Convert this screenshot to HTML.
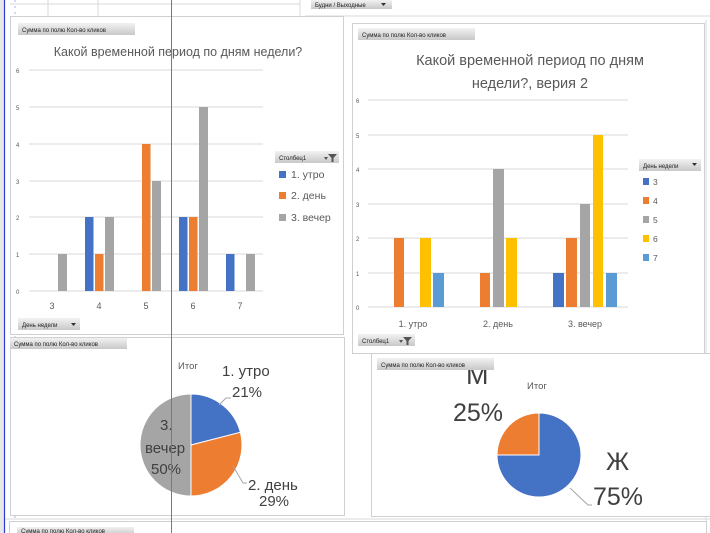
<!DOCTYPE html>
<html><head><meta charset="utf-8"><style>
html,body{margin:0;padding:0;background:#fff;}
svg{display:block;font-family:"Liberation Sans","Noto Sans CJK SC",sans-serif;}
</style></head><body>
<svg width="710" height="533" viewBox="0 0 710 533" xmlns="http://www.w3.org/2000/svg">
<defs><linearGradient id="bt" x1="0" y1="0" x2="0" y2="1"><stop offset="0" stop-color="#f2f2f2"/><stop offset="1" stop-color="#c8c8c8"/></linearGradient></defs>
<rect width="710" height="533" fill="#fff"/>
<!-- sheet grid hints -->
<g stroke="#d9d9d9" stroke-width="1">
<line x1="10" y1="4" x2="300" y2="4"/><line x1="305" y1="16" x2="710" y2="16"/>
<line x1="48" y1="0" x2="48" y2="16"/><line x1="98" y1="0" x2="98" y2="16"/><line x1="300" y1="0" x2="300" y2="16"/>
<line x1="0" y1="519" x2="710" y2="519"/>
<line x1="706" y1="20" x2="706" y2="533"/>
</g>
<rect x="0" y="0" width="4" height="533" fill="#e8e8e8"/>
<line x1="4.5" y1="0" x2="4.5" y2="533" stroke="#2a3fd0" stroke-width="1.2"/>
<line x1="15" y1="0" x2="15" y2="533" stroke="#2a3fd0" stroke-width="0.8" stroke-dasharray="2,4" opacity="0.5"/>
<!-- top button -->
<rect x="311" y="0" width="81" height="9" fill="url(#bt)"/>
<text x="315" y="7" font-size="6" fill="#222">Будни / Выходные</text>
<path d="M381 3 l5 0 l-2.5 3z" fill="#333"/>

<!-- LEFT CHART -->
<rect x="10.5" y="16.5" width="333" height="318" fill="#fff" stroke="#d0d0d0"/>
<rect x="18" y="23" width="117" height="12" fill="url(#bt)"/>
<text x="22" y="32" font-size="6" fill="#222">Сумма по полю Кол-во кликов</text>
<text x="178" y="56" font-size="12.5" fill="#595959" text-anchor="middle">Какой временной период по дням недели?</text>
<g stroke="#d9d9d9"><line x1="29" y1="70" x2="263" y2="70"/><line x1="29" y1="107" x2="263" y2="107"/><line x1="29" y1="144" x2="263" y2="144"/><line x1="29" y1="181" x2="263" y2="181"/><line x1="29" y1="217" x2="263" y2="217"/><line x1="29" y1="254" x2="263" y2="254"/><line x1="29" y1="291" x2="263" y2="291"/></g>
<g font-size="6" fill="#595959"><text x="16" y="73">6</text><text x="16" y="110">5</text><text x="16" y="147">4</text><text x="16" y="184">3</text><text x="16" y="220">2</text><text x="16" y="257">1</text><text x="16" y="294">0</text></g>
<g>
<rect x="58" y="254" width="9" height="37" fill="#a5a5a5"/>
<rect x="85" y="217" width="8.5" height="74" fill="#4472c4"/>
<rect x="95" y="254" width="8.5" height="37" fill="#ed7d31"/>
<rect x="105" y="217" width="9" height="74" fill="#a5a5a5"/>
<rect x="142" y="144" width="8.5" height="147" fill="#ed7d31"/>
<rect x="152" y="181" width="9" height="110" fill="#a5a5a5"/>
<rect x="179" y="217" width="8.5" height="74" fill="#4472c4"/>
<rect x="189" y="217" width="8.5" height="74" fill="#ed7d31"/>
<rect x="199" y="107" width="9" height="184" fill="#a5a5a5"/>
<rect x="226" y="254" width="8.5" height="37" fill="#4472c4"/>
<rect x="246" y="254" width="9" height="37" fill="#a5a5a5"/>
</g>
<g font-size="9" fill="#595959" text-anchor="middle"><text x="52" y="309">3</text><text x="99" y="309">4</text><text x="146" y="309">5</text><text x="193" y="309">6</text><text x="240" y="309">7</text></g>
<rect x="275" y="151" width="64" height="12" fill="url(#bt)"/>
<text x="279" y="160" font-size="6" fill="#222">Столбец1</text>
<path d="M324 157 l4 0 l-2 3z M328 154 l9 0 l-3.5 4 l0 4 l-2 0 l0 -4z" fill="#555"/>
<rect x="279" y="171" width="7" height="7" fill="#4472c4"/><text x="291" y="178" font-size="10.5" fill="#595959">1. утро</text>
<rect x="279" y="192" width="7" height="7" fill="#ed7d31"/><text x="291" y="199" font-size="10.5" fill="#595959">2. день</text>
<rect x="279" y="214" width="7" height="7" fill="#a5a5a5"/><text x="291" y="221" font-size="10.5" fill="#595959">3. вечер</text>
<rect x="18" y="318" width="62" height="12" fill="url(#bt)"/>
<text x="22" y="327" font-size="6" fill="#222">День недели</text>
<path d="M71 323 l5 0 l-2.5 3z" fill="#333"/>

<!-- RIGHT CHART -->
<rect x="352.5" y="23.5" width="352" height="330" fill="#fff" stroke="#d0d0d0"/>
<rect x="358" y="28" width="117" height="12" fill="url(#bt)"/>
<text x="362" y="37" font-size="6" fill="#222">Сумма по полю Кол-во кликов</text>
<text x="530" y="65" font-size="14.5" fill="#595959" text-anchor="middle">Какой временной период по дням</text>
<text x="530" y="88" font-size="14.5" fill="#595959" text-anchor="middle">недели?, верия 2</text>
<g stroke="#d9d9d9"><line x1="368" y1="100" x2="628" y2="100"/><line x1="368" y1="135" x2="628" y2="135"/><line x1="368" y1="169" x2="628" y2="169"/><line x1="368" y1="204" x2="628" y2="204"/><line x1="368" y1="238" x2="628" y2="238"/><line x1="368" y1="273" x2="628" y2="273"/><line x1="368" y1="307" x2="628" y2="307"/></g>
<g font-size="6" fill="#595959"><text x="356" y="103">6</text><text x="356" y="138">5</text><text x="356" y="172">4</text><text x="356" y="207">3</text><text x="356" y="241">2</text><text x="356" y="276">1</text><text x="356" y="310">0</text></g>
<g>
<rect x="394" y="238" width="10" height="69" fill="#ed7d31"/>
<rect x="420" y="238" width="11" height="69" fill="#ffc000"/>
<rect x="433" y="273" width="11" height="34" fill="#5b9bd5"/>
<rect x="480" y="273" width="10" height="34" fill="#ed7d31"/>
<rect x="493" y="169" width="11" height="138" fill="#a5a5a5"/>
<rect x="506" y="238" width="11" height="69" fill="#ffc000"/>
<rect x="553" y="273" width="11" height="34" fill="#4472c4"/>
<rect x="566" y="238" width="11" height="69" fill="#ed7d31"/>
<rect x="580" y="204" width="10" height="103" fill="#a5a5a5"/>
<rect x="593" y="135" width="10" height="172" fill="#ffc000"/>
<rect x="606" y="273" width="11" height="34" fill="#5b9bd5"/>
</g>
<g font-size="9" fill="#595959" text-anchor="middle"><text x="413" y="327">1. утро</text><text x="498" y="327">2. день</text><text x="585" y="327">3. вечер</text></g>
<rect x="639" y="159" width="62" height="12" fill="url(#bt)"/>
<text x="643" y="168" font-size="6" fill="#222">День недели</text>
<path d="M692 163 l5 0 l-2.5 3z" fill="#333"/>
<g font-size="8.5" fill="#595959">
<rect x="643" y="178" width="6" height="7" fill="#4472c4"/><text x="653" y="185">3</text>
<rect x="643" y="197" width="6" height="7" fill="#ed7d31"/><text x="653" y="204">4</text>
<rect x="643" y="216" width="6" height="7" fill="#a5a5a5"/><text x="653" y="223">5</text>
<rect x="643" y="235" width="6" height="7" fill="#ffc000"/><text x="653" y="242">6</text>
<rect x="643" y="254" width="6" height="7" fill="#5b9bd5"/><text x="653" y="261">7</text>
</g>
<rect x="358" y="334" width="57" height="12" fill="url(#bt)"/>
<text x="362" y="343" font-size="6" fill="#222">Столбец1</text>
<path d="M399 340 l4 0 l-2 3z M403 337 l9 0 l-3.5 4 l0 4 l-2 0 l0 -4z" fill="#555"/>

<!-- BOTTOM LEFT PIE -->
<rect x="10.5" y="337.5" width="334" height="178" fill="#fff" stroke="#d0d0d0"/>
<rect x="10" y="338" width="117" height="11" fill="url(#bt)"/>
<text x="14" y="346" font-size="6" fill="#222">Сумма по полю Кол-во кликов</text>
<text x="178" y="369" font-size="9.5" fill="#595959">Итог</text>
<path d="M191 445 L191 394 A51 51 0 0 1 240.4 432.3 Z" fill="#4472c4" stroke="#fff" stroke-width="1"/>
<path d="M191 445 L240.4 432.3 A51 51 0 0 1 191 496 Z" fill="#ed7d31" stroke="#fff" stroke-width="1"/>
<path d="M191 445 L191 496 A51 51 0 0 1 191 394 Z" fill="#a5a5a5" stroke="#fff" stroke-width="1"/>
<path d="M219 405 L226 398 L231 398 M233 466 L243 483 L247 483" stroke="#a5a5a5" fill="none"/>
<g font-size="15" fill="#404040">
<text x="222" y="376">1. утро</text><text x="232" y="397">21%</text>
<text x="160" y="430">3.</text><text x="145" y="453">вечер</text><text x="151" y="474">50%</text>
<text x="248" y="490">2. день</text><text x="259" y="506">29%</text>
</g>

<!-- BOTTOM RIGHT PIE -->
<rect x="371.5" y="353.5" width="340" height="163" fill="#fff" stroke="#d0d0d0"/>
<text x="466" y="384" font-size="27" fill="#404040">М</text>
<rect x="377" y="358" width="117" height="12" fill="url(#bt)"/>
<text x="381" y="367" font-size="6" fill="#222">Сумма по полю Кол-во кликов</text>
<text x="527" y="389" font-size="9.5" fill="#595959">Итог</text>
<path d="M539 455 L539 413 A42 42 0 1 1 497 455 Z" fill="#4472c4" stroke="#fff" stroke-width="1"/>
<path d="M539 455 L497 455 A42 42 0 0 1 539 413 Z" fill="#ed7d31" stroke="#fff" stroke-width="1"/>
<path d="M570 488 L588 505 L592 505" stroke="#a5a5a5" fill="none"/>
<g font-size="25" fill="#404040">
<text x="453" y="421">25%</text>
<text x="606" y="470">Ж</text>
<text x="593" y="505">75%</text>
</g>

<!-- bottom next -->
<rect x="9.5" y="521.5" width="697" height="14" fill="#fff" stroke="#d0d0d0"/>
<rect x="17" y="527" width="117" height="8" fill="url(#bt)"/>
<text x="21" y="533" font-size="6" fill="#222">Сумма по полю Кол-во кликов</text>

<!-- dark vertical line -->
<line x1="171.5" y1="0" x2="171.5" y2="533" stroke="#7a7a7a" stroke-width="1"/>
</svg>
</body></html>
